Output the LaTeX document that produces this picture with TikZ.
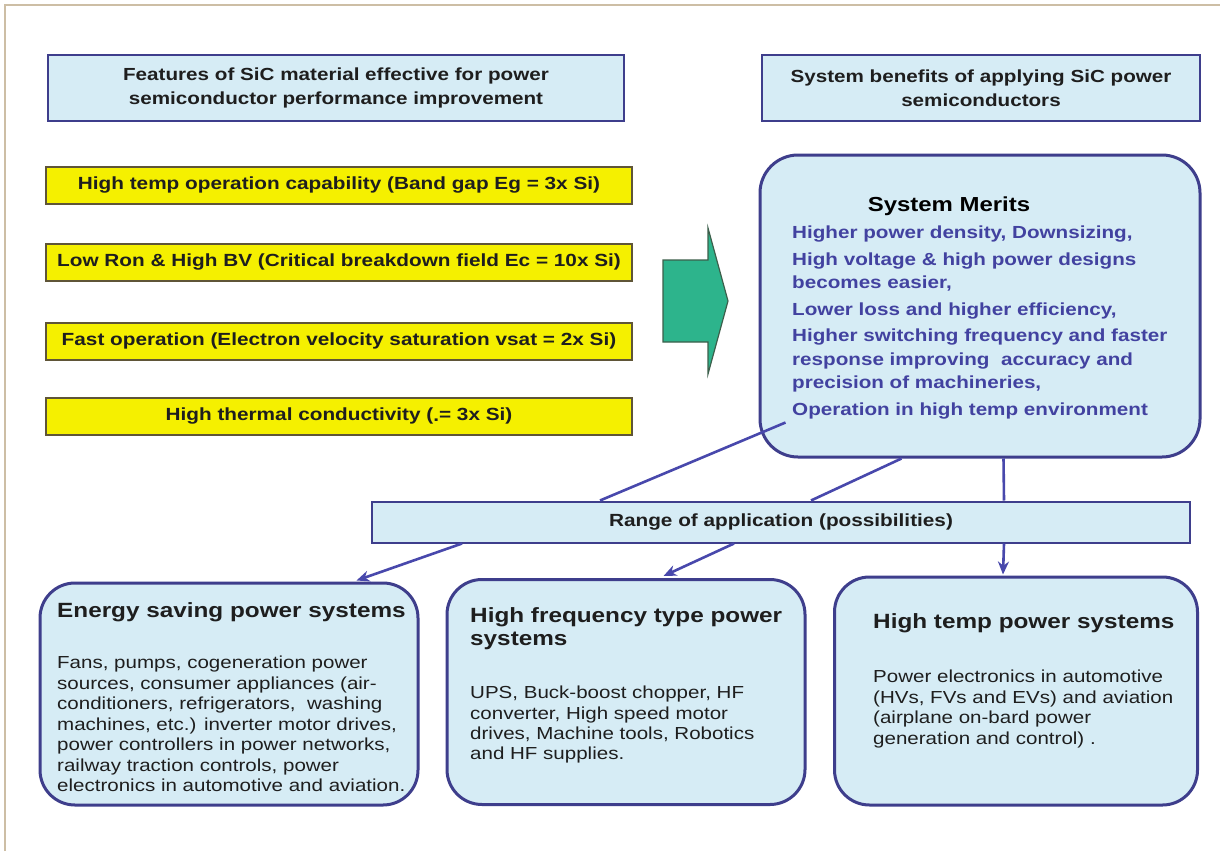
\documentclass[tikz,border=0pt]{standalone}
\usepackage{fontspec}
\setmainfont{Liberation Sans}[FakeStretch=1.18]
\usetikzlibrary{arrows.meta}
\definecolor{lblue}{RGB}{214,236,245}
\definecolor{bordb}{RGB}{62,62,140}
\definecolor{yfill}{RGB}{245,240,0}
\definecolor{yborder}{RGB}{95,85,55}
\definecolor{garrow}{RGB}{45,180,140}
\definecolor{gborder}{RGB}{60,95,75}
\definecolor{merit}{RGB}{66,66,160}
\definecolor{connc}{RGB}{72,72,172}
\definecolor{framec}{RGB}{205,190,165}
\definecolor{txt}{RGB}{30,30,30}
\tikzset{
  hdr/.style={draw=bordb, line width=2pt, fill=lblue, align=center, inner sep=0pt,
    text=txt, font=\bfseries\fontsize{17.5}{24}\selectfont},
  ybox/.style={draw=yborder, line width=2pt, fill=yfill, minimum width=586pt, minimum height=37pt,
    inner sep=0pt, text=txt, font=\bfseries\fontsize{17.6}{20}\selectfont},
  rbox/.style={draw=bordb, line width=3pt, fill=lblue, rounded corners=38pt, inner sep=0pt},
  conn/.style={draw=connc, line width=2.6pt},
  arr/.style={conn, -{Stealth[length=13pt,width=11pt]}},
  ttl/.style={anchor=base west, inner sep=0pt, text=txt, font=\bfseries\fontsize{20.6}{24}\selectfont, align=left},
  body/.style={anchor=north west, inner sep=0pt, text=txt, align=left},
}
\begin{document}
\begin{tikzpicture}[x=1pt,y=-1pt]
\useasboundingbox (0,0) rectangle (1220,851);
\fill[white] (0,0) rectangle (1220,851);
\draw[framec, line width=1.5pt] (5,851) -- (5,5) -- (1220,5);

% headers
\node[hdr, minimum width=576pt, minimum height=66pt] (hl) at (336,88)
  {Features of SiC material effective for power\\semiconductor performance improvement};
\node[hdr, minimum width=438pt, minimum height=66pt] (hr) at (981,88)
  {System benefits of applying SiC power\\semiconductors};

% yellow feature boxes
\node[ybox] (y1) at (339,185) {High temp operation capability (Band gap Eg = 3x Si)};
\node[ybox] (y2) at (339,262) {Low Ron \& High BV (Critical breakdown field Ec = 10x Si)};
\node[ybox] (y3) at (339,341) {Fast operation (Electron velocity saturation vsat = 2x Si)};
\node[ybox] (y4) at (339,416) {High thermal conductivity (\raisebox{-1pt}{.}= 3x Si)};

% green arrow
\filldraw[fill=garrow, draw=gborder, line width=1.2pt]
  (663,260) -- (708,260) -- (708,228) -- (728,301) -- (708,374) -- (708,342) -- (663,342) -- cycle;

% system merits
\node[rbox, minimum width=440pt, minimum height=302pt] (sm) at (980,306) {};
\node[anchor=center, inner sep=0pt, text=black, font=\bfseries\fontsize{20.3}{24}\selectfont] (smt) at (949,206) {System Merits};
\node[body, text=merit, font=\bfseries\fontsize{17.5}{23.5}\selectfont] (smb) at (792,226)
  {Higher power density, Downsizing,\\[3pt]
   High voltage \& high power designs\\
   becomes easier,\\[3pt]
   Lower loss and higher efficiency,\\[3pt]
   Higher switching frequency and faster\\
   response improving\ \ accuracy and\\
   precision of machineries,\\[3pt]
   Operation in high temp environment};

% application boxes
\node[rbox, rounded corners=35pt, minimum width=378pt, minimum height=222pt] (es) at (229,694) {};
\node[rbox, rounded corners=35pt, minimum width=358pt, minimum height=225pt] (hf) at (626,692) {};
\node[rbox, rounded corners=35pt, minimum width=363pt, minimum height=228pt] (ht) at (1016,691) {};

\node[ttl] (est) at (57,617) {Energy saving power systems};
\node[body, font=\fontsize{17.4}{20.5}\selectfont] (esb) at (57,656)
  {Fans, pumps, cogeneration power\\
   sources, consumer appliances (air-\\
   conditioners, refrigerators,\ \ washing\\
   machines, etc.) inverter motor drives,\\
   power controllers in power networks,\\
   railway traction controls, power\\
   electronics in automotive and aviation.};

\node[ttl] (hft) at (470,622) {High frequency type power};
\node[ttl] (hft2) at (470,645) {systems};
\node[body, font=\fontsize{17.4}{20.2}\selectfont] (hfb) at (470,686)
  {UPS, Buck-boost chopper, HF\\
   converter, High speed motor\\
   drives, Machine tools, Robotics\\
   and HF supplies.};

\node[ttl] (htt) at (873,628) {High temp power systems};
\node[body, font=\fontsize{17.4}{20.5}\selectfont] (htb) at (873,670)
  {Power electronics in automotive\\
   (HVs, FVs and EVs) and aviation\\
   (airplane on-bard power\\
   generation and control) .};

% range box
\node[draw=bordb, line width=2pt, fill=lblue, minimum width=818pt, minimum height=41pt, inner sep=0pt,
  text=txt, font=\bfseries\fontsize{17.6}{20}\selectfont] (rg) at (781,522) {Range of application (possibilities)};

% connectors
\draw[conn] ([xshift=27pt,yshift=36pt]sm.south west) -- ([xshift=229pt]rg.north west);
\draw[conn] ([xshift=143pt]sm.south west) -- ([xshift=440pt]rg.north west);
\draw[conn] ([xshift=245pt]sm.south west) -- ([xshift=633pt]rg.north west);
\draw[arr] ([xshift=91pt]rg.south west) -- ([xshift=318pt,yshift=1pt]es.north west);
\draw[arr] ([xshift=363pt]rg.south west) -- ([xshift=218pt,yshift=2pt]hf.north west);
\draw[arr] ([xshift=633pt]rg.south west) -- ([xshift=170pt,yshift=1pt]ht.north west);
\end{tikzpicture}
\end{document}
